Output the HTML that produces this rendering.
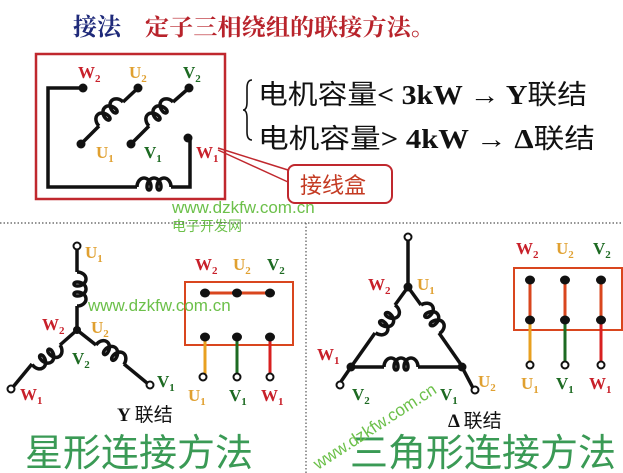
<!DOCTYPE html>
<html><head><meta charset="utf-8"><style>
body{margin:0;background:#fff;}
svg{display:block}
.s{font-family:"Liberation Serif","Noto Serif CJK SC",serif;font-weight:bold}
.c{font-family:"Liberation Sans","Noto Sans CJK SC",sans-serif}
</style></head><body>
<svg width="623" height="473" viewBox="0 0 623 473" xmlns="http://www.w3.org/2000/svg">
<defs>
<path id="coil" d="M0,0 a7,9 0 0,1 14,0 a2,3 0 0,1 -4,0 a7,9 0 0,1 14,0 a2,3 0 0,1 -4,0 a7,9 0 0,1 14,0" fill="none" stroke="#111" stroke-width="3.5"/>
</defs>
<!-- title -->
<text x="73" y="35" class="s" font-size="24" fill="#1f2a7a">接法</text>
<text x="145" y="35" class="s" font-size="23" fill="#b8232b" textLength="290" lengthAdjust="spacingAndGlyphs">定子三相绕组的联接方法。</text>
<!-- top box -->
<rect x="36" y="54" width="189" height="145" fill="none" stroke="#c0282e" stroke-width="2.5"/>
<g fill="none" stroke="#111" stroke-width="3.5">
<polyline points="83,88 48,88 48,187 137,187"/>
<polyline points="171,187 190,187 190,138"/>
<line x1="81" y1="144" x2="99" y2="126"/><line x1="123" y1="102" x2="138" y2="88"/>
<line x1="131" y1="144" x2="149" y2="126"/><line x1="173" y1="102" x2="189" y2="88"/>
</g>
<use href="#coil" transform="translate(137,187)"/>
<use href="#coil" transform="translate(99,126) rotate(-45)"/>
<use href="#coil" transform="translate(149,126) rotate(-45)"/>
<g fill="#111"><circle cx="83" cy="88" r="4.5"/><circle cx="138" cy="88" r="4.5"/><circle cx="189" cy="88" r="4.5"/><circle cx="81" cy="144" r="4.5"/><circle cx="131" cy="144" r="4.5"/><circle cx="188" cy="138" r="4.5"/></g>
<g class="s" font-size="17">
<text x="78" y="78" fill="#c8202a">W<tspan font-size="11" dy="4">2</tspan></text>
<text x="129" y="78" fill="#e0a030">U<tspan font-size="11" dy="4">2</tspan></text>
<text x="183" y="78" fill="#1d6a22">V<tspan font-size="11" dy="4">2</tspan></text>
<text x="96" y="158" fill="#e0a030">U<tspan font-size="11" dy="4">1</tspan></text>
<text x="144" y="158" fill="#1d6a22">V<tspan font-size="11" dy="4">1</tspan></text>
<text x="196" y="158" fill="#c8202a">W<tspan font-size="11" dy="4">1</tspan></text>
</g>
<!-- callout -->
<polyline points="218,148 288,170" stroke="#c0282e" stroke-width="1.5" fill="none"/>
<polyline points="218,150 288,182" stroke="#c0282e" stroke-width="1.5" fill="none"/>
<rect x="288" y="165" width="104" height="38" rx="7" fill="#fff" stroke="#c0282e" stroke-width="2"/>
<text x="300" y="193" class="c" font-size="22" fill="#c43a22">接线盒</text>
<!-- brace + text -->
<path d="M252,80 q-5,0 -5,8 v14 q0,8 -4,8 q4,0 4,8 v14 q0,8 5,8" fill="none" stroke="#111" stroke-width="1.6"/>
<text x="258" y="104" font-size="27" fill="#111" textLength="329" lengthAdjust="spacingAndGlyphs"><tspan class="c">电机容量</tspan><tspan class="s">&lt; 3kW → Y</tspan><tspan class="c">联结</tspan></text>
<text x="258" y="148" font-size="27" fill="#111" textLength="337" lengthAdjust="spacingAndGlyphs"><tspan class="c">电机容量</tspan><tspan class="s">&gt; 4kW → Δ</tspan><tspan class="c">联结</tspan></text>
<!-- watermark -->
<text x="172" y="213" class="c" font-size="17" fill="#6cc04a">www.dzkfw.com.cn</text>
<text x="172" y="231" class="c" font-size="14" fill="#6cc04a">电子开发网</text>
<!-- separators -->
<line x1="0" y1="223" x2="623" y2="223" stroke="#555" stroke-width="1.2" stroke-dasharray="1.5,2"/>
<line x1="306" y1="223" x2="306" y2="473" stroke="#555" stroke-width="1.2" stroke-dasharray="1.5,2"/>
<!-- star -->
<g fill="none" stroke="#111" stroke-width="3.5">
<line x1="77" y1="249" x2="77" y2="272"/><line x1="77" y1="306" x2="77" y2="330"/>
<line x1="77" y1="330" x2="60" y2="345"/><line x1="32" y1="364" x2="13" y2="387"/>
<line x1="77" y1="330" x2="96" y2="345"/><line x1="124" y1="364" x2="147" y2="383"/>
</g>
<use href="#coil" transform="translate(77,272) rotate(90)"/>
<use href="#coil" transform="translate(60,345) rotate(145)"/>
<use href="#coil" transform="translate(96,345) rotate(35)"/>
<circle cx="77" cy="330" r="4" fill="#111"/>
<g fill="#fff" stroke="#111" stroke-width="2"><circle cx="77" cy="246" r="3.5"/><circle cx="11" cy="389" r="3.5"/><circle cx="150" cy="385" r="3.5"/></g>
<g class="s" font-size="17">
<text x="85" y="258" fill="#e0a030">U<tspan font-size="11" dy="4">1</tspan></text>
<text x="42" y="330" fill="#c8202a">W<tspan font-size="11" dy="4">2</tspan></text>
<text x="91" y="333" fill="#e0a030">U<tspan font-size="11" dy="4">2</tspan></text>
<text x="72" y="364" fill="#1d6a22">V<tspan font-size="11" dy="4">2</tspan></text>
<text x="20" y="400" fill="#c8202a">W<tspan font-size="11" dy="4">1</tspan></text>
<text x="157" y="387" fill="#1d6a22">V<tspan font-size="11" dy="4">1</tspan></text>
<text x="117" y="421" fill="#111" font-size="19">Y <tspan class="c" font-weight="normal">联结</tspan></text>
</g>
<text x="25" y="466" class="c" font-size="38" fill="#3a9a55">星形连接方法</text>
<!-- star box -->
<rect x="185" y="282" width="108" height="63" fill="none" stroke="#d9461e" stroke-width="2"/>
<line x1="205" y1="293" x2="270" y2="293" stroke="#d9461e" stroke-width="3"/>
<line x1="205" y1="337" x2="205" y2="375" stroke="#e8a020" stroke-width="3"/>
<line x1="237" y1="337" x2="237" y2="375" stroke="#1d6a22" stroke-width="3"/>
<line x1="270" y1="337" x2="270" y2="375" stroke="#d82020" stroke-width="3"/>
<g fill="#111"><ellipse cx="205" cy="293" rx="5" ry="4.5"/><ellipse cx="237" cy="293" rx="5" ry="4.5"/><ellipse cx="270" cy="293" rx="5" ry="4.5"/><ellipse cx="205" cy="337" rx="5" ry="4.5"/><ellipse cx="237" cy="337" rx="5" ry="4.5"/><ellipse cx="270" cy="337" rx="5" ry="4.5"/></g>
<g fill="#fff" stroke="#111" stroke-width="2"><circle cx="203" cy="377" r="3.5"/><circle cx="237" cy="377" r="3.5"/><circle cx="270" cy="377" r="3.5"/></g>
<g class="s" font-size="17">
<text x="195" y="270" fill="#c8202a">W<tspan font-size="11" dy="4">2</tspan></text>
<text x="233" y="270" fill="#e0a030">U<tspan font-size="11" dy="4">2</tspan></text>
<text x="267" y="270" fill="#1d6a22">V<tspan font-size="11" dy="4">2</tspan></text>
<text x="188" y="401" fill="#e0a030">U<tspan font-size="11" dy="4">1</tspan></text>
<text x="229" y="401" fill="#1d6a22">V<tspan font-size="11" dy="4">1</tspan></text>
<text x="261" y="401" fill="#c8202a">W<tspan font-size="11" dy="4">1</tspan></text>
</g>
<text x="88" y="311" class="c" font-size="17" fill="#6cc04a">www.dzkfw.com.cn</text>
<!-- delta -->
<g fill="none" stroke="#111" stroke-width="3.5">
<line x1="408" y1="240" x2="408" y2="287"/>
<line x1="408" y1="287" x2="395" y2="305"/><line x1="375" y1="333" x2="351" y2="367"/>
<line x1="408" y1="287" x2="421" y2="305"/><line x1="439" y1="333" x2="462" y2="366"/>
<line x1="351" y1="367" x2="384" y2="367"/><line x1="418" y1="367" x2="462" y2="367"/>
<line x1="351" y1="367" x2="340" y2="383"/><line x1="462" y1="367" x2="473" y2="388"/>
</g>
<use href="#coil" transform="translate(395,305) rotate(125)"/>
<use href="#coil" transform="translate(421,305) rotate(57)"/>
<use href="#coil" transform="translate(384,367)"/>
<g fill="#111"><circle cx="408" cy="287" r="4.5"/><circle cx="351" cy="367" r="4.5"/><circle cx="462" cy="367" r="4.5"/></g>
<g fill="#fff" stroke="#111" stroke-width="2"><circle cx="408" cy="237" r="3.5"/><circle cx="340" cy="385" r="3.5"/><circle cx="475" cy="390" r="3.5"/></g>
<g class="s" font-size="17">
<text x="368" y="290" fill="#c8202a">W<tspan font-size="11" dy="4">2</tspan></text>
<text x="417" y="290" fill="#e0a030">U<tspan font-size="11" dy="4">1</tspan></text>
<text x="317" y="360" fill="#c8202a">W<tspan font-size="11" dy="4">1</tspan></text>
<text x="352" y="400" fill="#1d6a22">V<tspan font-size="11" dy="4">2</tspan></text>
<text x="440" y="400" fill="#1d6a22">V<tspan font-size="11" dy="4">1</tspan></text>
<text x="478" y="387" fill="#e0a030">U<tspan font-size="11" dy="4">2</tspan></text>
<text x="448" y="427" fill="#111" font-size="19">Δ <tspan class="c" font-weight="normal">联结</tspan></text>
</g>
<text x="350" y="466" class="c" font-size="38" fill="#3a9a55">三角形连接方法</text>
<text x="0" y="0" class="c" font-size="17" fill="#6cc04a" transform="translate(318,470) rotate(-33)">www.dzkfw.com.cn</text>
<!-- delta box -->
<rect x="514" y="268" width="108" height="62" fill="none" stroke="#d9461e" stroke-width="2"/>
<g stroke="#d9461e" stroke-width="3"><line x1="530" y1="280" x2="530" y2="320"/><line x1="565" y1="280" x2="565" y2="320"/><line x1="601" y1="280" x2="601" y2="320"/></g>
<line x1="530" y1="320" x2="530" y2="363" stroke="#e8a020" stroke-width="3"/>
<line x1="565" y1="320" x2="565" y2="363" stroke="#1d6a22" stroke-width="3"/>
<line x1="601" y1="320" x2="601" y2="363" stroke="#d82020" stroke-width="3"/>
<g fill="#111"><ellipse cx="530" cy="280" rx="5" ry="4.5"/><ellipse cx="565" cy="280" rx="5" ry="4.5"/><ellipse cx="601" cy="280" rx="5" ry="4.5"/><ellipse cx="530" cy="320" rx="5" ry="4.5"/><ellipse cx="565" cy="320" rx="5" ry="4.5"/><ellipse cx="601" cy="320" rx="5" ry="4.5"/></g>
<g fill="#fff" stroke="#111" stroke-width="2"><circle cx="530" cy="365" r="3.5"/><circle cx="565" cy="365" r="3.5"/><circle cx="601" cy="365" r="3.5"/></g>
<g class="s" font-size="17">
<text x="516" y="254" fill="#c8202a">W<tspan font-size="11" dy="4">2</tspan></text>
<text x="556" y="254" fill="#e0a030">U<tspan font-size="11" dy="4">2</tspan></text>
<text x="593" y="254" fill="#1d6a22">V<tspan font-size="11" dy="4">2</tspan></text>
<text x="521" y="389" fill="#e0a030">U<tspan font-size="11" dy="4">1</tspan></text>
<text x="556" y="389" fill="#1d6a22">V<tspan font-size="11" dy="4">1</tspan></text>
<text x="589" y="389" fill="#c8202a">W<tspan font-size="11" dy="4">1</tspan></text>
</g>
</svg>
</body></html>
